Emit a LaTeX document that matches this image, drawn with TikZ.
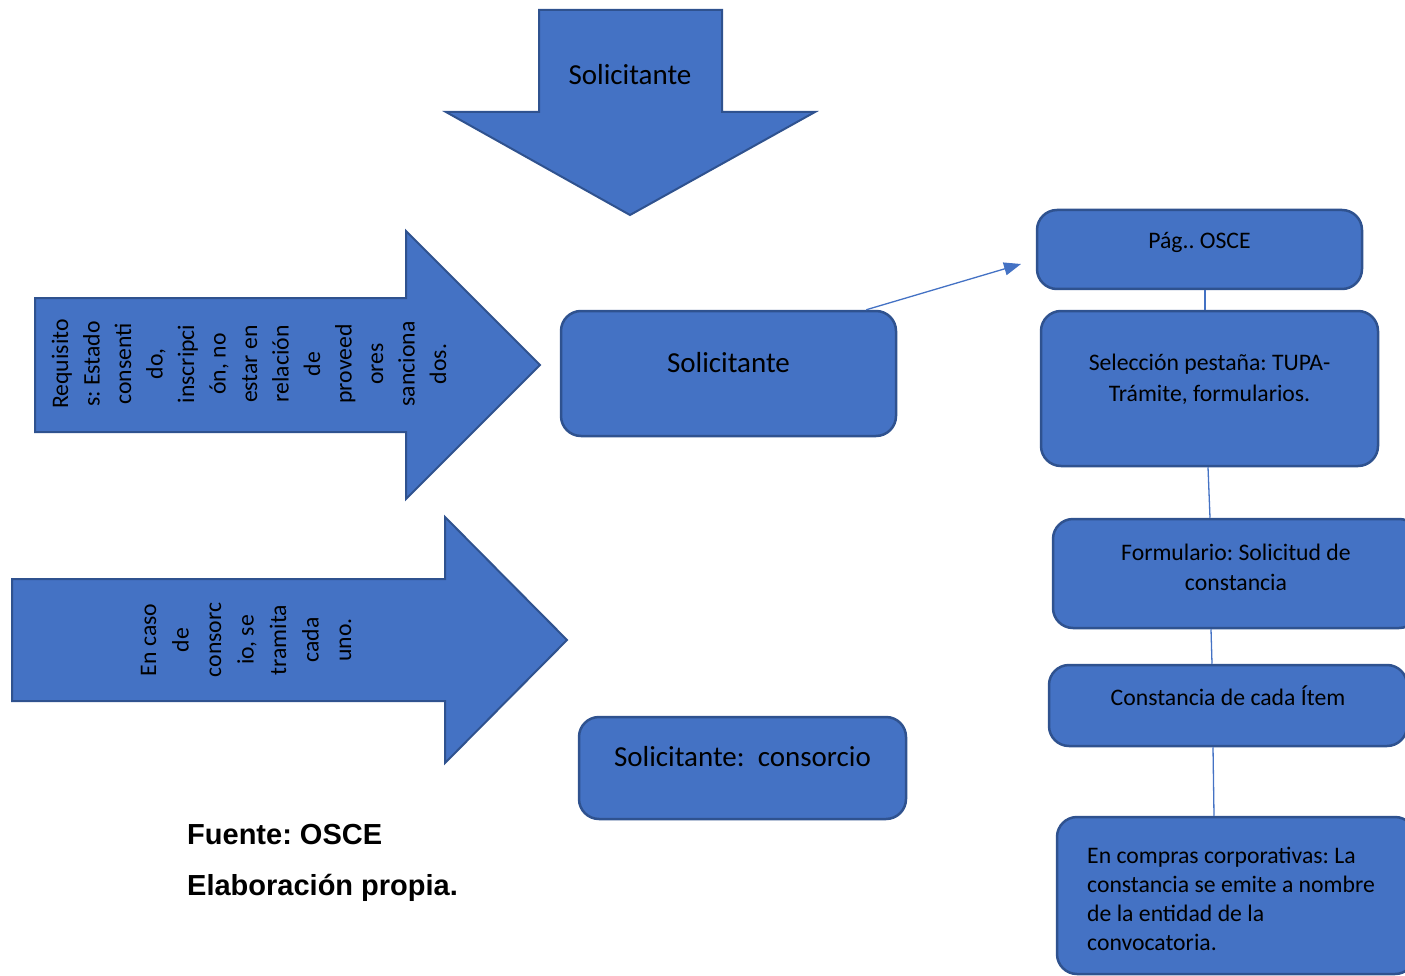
\documentclass[tikz,border=0pt]{standalone}
\usepackage{fontspec}
\setmainfont{Carlito}
\newfontfamily\srcfont{Liberation Sans}
\usetikzlibrary{arrows.meta,calc}
\definecolor{ofblue}{HTML}{4472C4}
\definecolor{ofdark}{HTML}{2F528F}
\frenchspacing
\tikzset{
  bigshape/.style={fill=ofblue, draw=ofdark, line width=2pt, line join=miter},
  roundbox/.style={rectangle, rounded corners=20pt, fill=ofblue, draw=ofdark, line width=2.5pt, inner sep=0pt},
  bigtxt/.style={font=\fontsize{29}{35}\selectfont, inner sep=0pt, anchor=base},
  smalltxt/.style={font=\fontsize{23.7}{29}\selectfont, inner sep=0pt, anchor=base},
  vertxt/.style={rotate=90, align=center, inner sep=0pt},
  connector/.style={draw=ofblue, line width=1.3pt},
  srctxt/.style={font=\srcfont\bfseries\fontsize{29}{35}\selectfont, inner sep=0pt, anchor=base west}
}
\begin{document}
\begin{tikzpicture}[x=1pt, y=-1pt]
\useasboundingbox (0,0) rectangle (1405,976);
\clip (0,0) rectangle (1405,976);

% top down arrow
\draw[bigshape] (539,10) -- (722,10) -- (722,112) -- (815,112) -- (630,215) -- (446,112) -- (539,112) -- cycle;
\node[bigtxt] (toplabel) at (630,85) {Solicitante};

% first right arrow
\draw[bigshape] (35,298) -- (406,298) -- (406,231) -- (540,365) -- (406,499) -- (406,432) -- (35,432) -- cycle;
\node[vertxt, font=\fontsize{23.7}{31.5}\selectfont] (req) at (249,364)
  {Requisito\\s: Estado\\consenti\\do,\\inscripci\\ón, no\\estar en\\relación\\de\\proveed\\ores\\sanciona\\dos.};

% second right arrow
\draw[bigshape] (12,579) -- (445,579) -- (445,517) -- (567,640) -- (445,763) -- (445,701) -- (12,701) -- cycle;
\node[vertxt, font=\fontsize{23.7}{32.5}\selectfont] (cons) at (246,640)
  {En caso\\de\\consorc\\io, se\\tramita\\cada\\uno.};

% middle boxes
\node[roundbox, minimum width=335pt, minimum height=125pt] (sol) at (728.5,373.5) {};
\node[bigtxt] (soltxt) at (728.5,372) {Solicitante};
\node[roundbox, minimum width=327pt, minimum height=102pt] (consbox) at (742.5,768) {};
\node[bigtxt] (constxt) at (742.5,766) {Solicitante:\ \ consorcio};

% right column
\node[roundbox, minimum width=325pt, minimum height=79pt] (pag) at (1199.5,249.5) {};
\node[smalltxt] (pagtxt) at (1199.5,249) {Pág.. OSCE};
\node[roundbox, minimum width=337pt, minimum height=155pt] (sel) at (1209.5,388.5) {};
\node[smalltxt] (seltxt1) at (1209.5,370) {Selección pestaña: TUPA-};
\node[smalltxt] (seltxt2) at (1209.5,401) {Trámite, formularios.};
\node[roundbox, minimum width=366pt, minimum height=109pt] (form) at (1236,573.5) {};
\node[smalltxt] (formtxt1) at (1236,560) {Formulario: Solicitud de};
\node[smalltxt] (formtxt2) at (1236,590) {constancia};
\node[roundbox, minimum width=358pt, minimum height=81pt] (const) at (1228,705.5) {};
\node[smalltxt] (consttxt) at (1228,705) {Constancia de cada Ítem};
\node[roundbox, minimum width=358pt, minimum height=157pt] (comp) at (1236,895.5) {};
\node[smalltxt, anchor=base west, align=left, font=\fontsize{23.7}{29}\selectfont] (comptxt) at (1087,950)
  {En compras corporativas: La\\constancia se emite a nombre\\de la entidad de la\\convocatoria.};

% connectors
\draw[connector] ($(pag.south)+(5.5,0)$) -- ($(sel.north)+(-4.5,0)$);
\draw[connector] ($(sel.south)+(-1.5,0)$) -- ($(form.north)+(-26,0)$);
\draw[connector] ($(form.south)+(-25,0)$) -- ($(const.north)+(-16,0)$);
\draw[connector] ($(const.south)+(-15,0)$) -- ($(comp.north)+(-22,0)$);
\coordinate (arrend) at (1021,264);
\draw[connector, -{Triangle[length=17pt,width=13pt]}] ($(sol.north east)+(-31,0)$) -- (arrend);

% source text
\node[srctxt] (fuente) at (187,844) {Fuente: OSCE};
\node[srctxt] (elab) at (187,895) {Elaboración propia.};
\end{tikzpicture}
\end{document}
